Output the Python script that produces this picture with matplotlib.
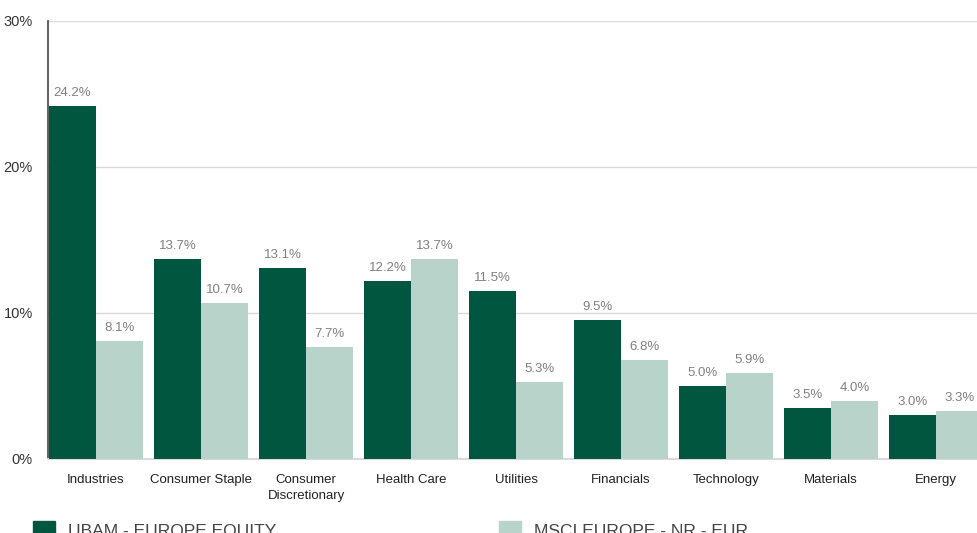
import numpy as np
import matplotlib
matplotlib.use("Agg")
import matplotlib.pyplot as plt
from matplotlib.patches import Rectangle

# Datos
sectors = ["Industries", "Consumer Staple", "Consumer\nDiscretionary", "Health Care",
           "Utilities", "Financials", "Technology", "Materials", "Energy"]
fund = [24.2, 13.7, 13.1, 12.2, 11.5, 9.5, 5.0, 3.5, 3.0]
bench = [8.1, 10.7, 7.7, 13.7, 5.3, 6.8, 5.9, 4.0, 3.3]
series_names = ["UBAM - EUROPE EQUITY", "MSCI EUROPE - NR - EUR"]

dark = "#00563f"
light = "#b8d3ca"

plt.rcParams["font.family"] = ["Liberation Sans", "DejaVu Sans"]

fig = plt.figure(figsize=(9.77, 5.33), dpi=100)
ax = fig.add_axes([48 / 977, 74 / 533, 1 - 48 / 977, 438 / 533])

x = np.arange(len(sectors))
w = 0.448
b1 = ax.bar(x - w / 2, fund, w, color=dark, zorder=3)
b2 = ax.bar(x + w / 2, bench, w, color=light, zorder=3)

for bars, vals in ((b1, fund), (b2, bench)):
    for r, v in zip(bars, vals):
        ax.annotate(f"{v:.1f}%", (r.get_x() + r.get_width() / 2, v),
                    xytext=(0, 5), textcoords="offset points",
                    ha="center", va="bottom", fontsize=9.5, color="#808080")

ax.set_xlim(-0.457, 8.39)
ax.set_ylim(0, 30)
ax.set_yticks([0, 10, 20, 30])
ax.set_yticklabels(["0%", "10%", "20%", "30%"])
ax.set_xticks(x)
ax.set_xticklabels(sectors)
ax.tick_params(axis="y", length=0, pad=11, labelsize=10.5, labelcolor="#333333")
ax.tick_params(axis="x", length=0, pad=10.5, labelsize=9.5, labelcolor="#222222")
for lab in ax.get_xticklabels():
    lab.set_linespacing(1.45)

ax.grid(axis="y", color="#d9d9d9", linewidth=1, zorder=0)
ax.spines["top"].set_visible(False)
ax.spines["right"].set_visible(False)
ax.spines["left"].set_color("#444444")
ax.spines["left"].set_linewidth(1.2)
ax.spines["bottom"].set_color("#d9d9d9")
ax.spines["bottom"].set_linewidth(1.5)

# Leyenda (cortada abajo como en el original)
W, H = 977, 533
fig.patches.append(Rectangle((33 / W, 0), 22 / W, 12 / H, transform=fig.transFigure,
                             color=dark, zorder=5))
fig.patches.append(Rectangle((499 / W, 0), 22 / W, 12 / H, transform=fig.transFigure,
                             color=light, zorder=5))
fig.text(68 / W, -6 / H, series_names[0], fontsize=12.5, color="#444444", va="bottom")
fig.text(534 / W, -6 / H, series_names[1], fontsize=12.5, color="#444444", va="bottom")

fig.savefig("out.png", dpi=100)
